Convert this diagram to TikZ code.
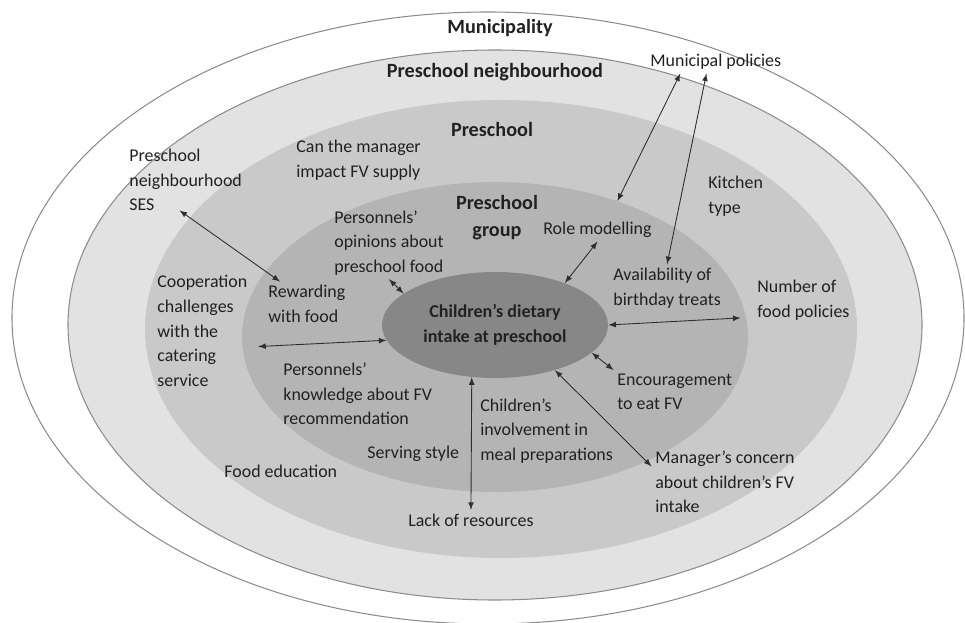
\documentclass[tikz,border=0pt]{standalone}
\usepackage{fontspec}
\setmainfont{Carlito}
\usepackage{xcolor}
\usetikzlibrary{shapes.geometric,positioning}
\definecolor{muniFill}{gray}{1}
\definecolor{nbhdFill}{gray}{0.885}
\definecolor{schoolFill}{gray}{0.79}
\definecolor{groupFill}{gray}{0.705}
\definecolor{intakeFill}{gray}{0.53}
\definecolor{edge}{gray}{0.55}
\definecolor{txt}{gray}{0.13}
\definecolor{arr}{gray}{0.18}

\begin{document}
\begin{tikzpicture}[x=0.2mm,y=-0.2mm,>=latex,
  every node/.style={align=left,inner sep=2pt,text=txt,font=\fontsize{10.2}{14}\selectfont},
  ring/.style={ellipse,inner sep=0pt},
  hdr/.style={align=center,font=\fontsize{11.5}{15.5}\selectfont\bfseries},
  lbl/.style={anchor=west},
  link/.style={<->,draw=arr,line width=0.5pt}]
\useasboundingbox (0,0) rectangle (965,623);

% levels
\node[ring,fill=muniFill,draw=edge,line width=0.6pt,minimum width=190.4mm,minimum height=122.4mm] (muni) at (488,318) {};
\node[ring,fill=nbhdFill,draw=edge,line width=0.6pt,minimum width=170.8mm,minimum height=110mm] (nbhd) at (495,325) {};
\node[ring,fill=schoolFill,minimum width=142.4mm,minimum height=91.6mm] (school) at (501,329) {};
\node[ring,fill=groupFill,minimum width=101.2mm,minimum height=62mm] (group) at (495,337) {};
\node[ring,fill=intakeFill,align=center,font=\fontsize{10.3}{14.2}\selectfont\bfseries,minimum width=45.2mm,minimum height=21.2mm] (intake) at (495,325) {Children's dietary\\intake at preschool};

\node[hdr] (muniname) at (500,28) {Municipality};
\node[hdr] (nbhdname) at (495,72) {Preschool neighbourhood};
\node[hdr] (schoolname) at (492,129) {Preschool};
\node[hdr] (groupname) at (497,218) {Preschool\\group};

% factors
\node[lbl] (munpol) at (646.5,62) {Municipal policies};
\node[lbl] (ses) at (125.5,180) {Preschool\\neighbourhood\\SES};
\node[lbl] (canmgr) at (292.5,160) {Can the manager\\impact FV supply};
\node[lbl] (opin) at (330.5,243) {Personnels'\\opinions about\\preschool food};
\node[lbl] (role) at (539.5,230) {Role modelling};
\node[lbl] (kitchen) at (704.5,196) {Kitchen\\type};
\node[lbl] (avail) at (609.5,288) {Availability of\\birthday treats};
\node[lbl] (numpol) at (753.5,300) {Number of\\food policies};
\node[lbl] (coop) at (153.5,331) {Cooperation\\challenges\\with the\\catering\\service};
\node[lbl] (reward) at (264.5,304) {Rewarding\\with food};
\node[lbl] (knowl) at (279.5,394) {Personnels'\\knowledge about FV\\recommendation};
\node[lbl] (encour) at (613.5,392) {Encouragement\\to eat FV};
\node[lbl] (involve) at (476.5,431) {Children's\\involvement in\\meal preparations};
\node[lbl] (serving) at (363.5,454) {Serving style};
\node[lbl] (foodedu) at (220.5,471) {Food education};
\node[lbl] (lack) at (404.5,520) {Lack of resources};
\node[lbl] (mgrconc) at (651.5,482) {Manager's concern\\about children's FV\\intake};

\draw[link,shorten <=-1.5mm] (ses.south) -- (reward.140);
\draw[link] (opin.south) -- (intake.161);
\draw[link] (munpol.198) -- (group.48);
\draw[link] (munpol.231) -- (avail.north);
\draw[link] (role.south) -- (intake.31);
\draw[link,shorten >=2.6mm] (intake.east) -- (numpol.199);
\draw[link,shorten <=1.4mm] (coop.342) -- (intake.188);
\draw[link] (intake.344) -- (encour.north west);
\draw[link] (intake.323) -- (mgrconc.168);
\draw[link] (intake.246) -- (lack.north);

\end{tikzpicture}
\end{document}
